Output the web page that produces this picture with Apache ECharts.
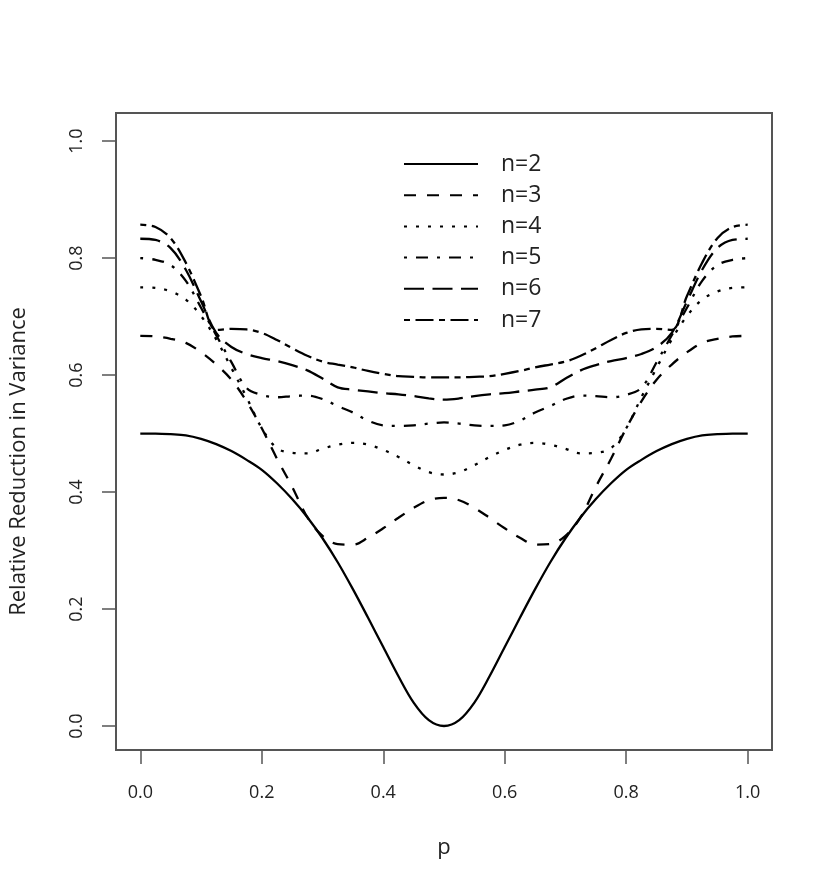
<!DOCTYPE html>
<html>
<head>
<meta charset="utf-8">
<script src="https://cdn.jsdelivr.net/npm/echarts@6/dist/echarts.min.js"></script>
<style>
html,body{margin:0;padding:0;background:#fff;}
#chart{width:830px;height:891px;}
</style>
</head>
<body>
<div id="chart"></div>
<script>
// p values (x axis), step 0.025 from 0 to 1
const pValues = [0,0.025,0.05,0.075,0.1,0.125,0.15,0.175,0.2,0.225,0.25,0.275,0.3,0.325,0.35,0.375,0.4,0.425,0.45,0.475,0.5,0.525,0.55,0.575,0.6,0.625,0.65,0.675,0.7,0.725,0.75,0.775,0.8,0.825,0.85,0.875,0.9,0.925,0.95,0.975,1];

const n2 = [0.5,0.5,0.499,0.497,0.491,0.482,0.47,0.455,0.438,0.415,0.388,0.357,0.321,0.28,0.234,0.185,0.135,0.085,0.04,0.01,0,0.01,0.04,0.085,0.135,0.185,0.234,0.28,0.321,0.357,0.388,0.415,0.438,0.455,0.47,0.482,0.491,0.497,0.499,0.5,0.5];
const n3 = [0.667,0.666,0.662,0.655,0.639,0.618,0.592,0.555,0.509,0.457,0.409,0.357,0.325,0.311,0.31,0.322,0.338,0.356,0.373,0.386,0.39,0.386,0.373,0.356,0.338,0.322,0.31,0.311,0.325,0.357,0.409,0.457,0.509,0.555,0.592,0.618,0.639,0.655,0.662,0.666,0.667];
const n4 = [0.75,0.749,0.743,0.729,0.701,0.661,0.612,0.562,0.509,0.475,0.467,0.466,0.474,0.481,0.484,0.481,0.472,0.46,0.446,0.434,0.43,0.434,0.446,0.46,0.472,0.481,0.484,0.481,0.474,0.466,0.467,0.475,0.509,0.562,0.612,0.661,0.701,0.729,0.743,0.749,0.75];
const n5 = [0.8,0.797,0.788,0.761,0.715,0.668,0.622,0.578,0.566,0.562,0.564,0.565,0.559,0.547,0.536,0.522,0.514,0.513,0.514,0.517,0.519,0.517,0.514,0.513,0.514,0.522,0.536,0.547,0.559,0.565,0.564,0.562,0.566,0.578,0.622,0.668,0.715,0.761,0.788,0.797,0.8];
const n6 = [0.833,0.831,0.817,0.78,0.726,0.672,0.648,0.636,0.629,0.624,0.617,0.608,0.594,0.579,0.575,0.572,0.569,0.567,0.564,0.56,0.558,0.56,0.564,0.567,0.569,0.572,0.575,0.579,0.594,0.608,0.617,0.624,0.629,0.636,0.648,0.672,0.726,0.78,0.817,0.831,0.833];
const n7 = [0.857,0.853,0.834,0.792,0.735,0.677,0.679,0.678,0.672,0.66,0.646,0.633,0.623,0.618,0.613,0.607,0.602,0.598,0.597,0.596,0.596,0.596,0.597,0.598,0.602,0.607,0.613,0.618,0.623,0.633,0.646,0.66,0.672,0.678,0.679,0.677,0.735,0.792,0.834,0.853,0.857];

const seriesNames = ['n=2','n=3','n=4','n=5','n=6','n=7'];
const tickValues = [0,0.2,0.4,0.6,0.8,1.0];
const xTitle = 'p';
const yTitle = 'Relative Reduction in Variance';

const allValues = [n2,n3,n4,n5,n6,n7];
const dashStyles = ['solid',[12,11],[3,9],[3,9,12,9],[20,8.5],[6,5.5,18,5.5]];

const FONT = 'Open Sans';

const series = allValues.map((vals, i) => ({
  name: seriesNames[i],
  type: 'line',
  data: pValues.map((p, j) => [p, vals[j]]),
  symbol: 'none',
  showSymbol: false,
  smooth: 0.35,
  lineStyle: { color: '#000', width: 2.3, type: dashStyles[i], cap: 'butt' },
  itemStyle: { color: '#000' },
  emphasis: { disabled: true },
  animation: false
}));

const chart = echarts.init(document.getElementById('chart'), null, { renderer: 'canvas' });
chart.setOption({
  animation: false,
  backgroundColor: '#fff',
  grid: {
    show: true,
    left: 113, top: 113, width: 659, height: 637,
    borderColor: '#555', borderWidth: 2,
    backgroundColor: 'transparent'
  },
  legend: {
    orient: 'vertical',
    left: 403, top: 152, padding: 0,
    itemWidth: 74, itemHeight: 24, itemGap: 7.2,
    itemStyle: { color: 'rgba(0,0,0,0)', borderWidth: 0, opacity: 0 },
    textStyle: { fontFamily: FONT, fontSize: 23, color: '#222', lineHeight: 24, padding: [0,0,0,18] },
    data: seriesNames,
    selectedMode: false
  },
  xAxis: {
    type: 'value', min: -0.04, max: 1.04,
    name: xTitle, nameLocation: 'middle', nameGap: 87,
    nameTextStyle: { fontFamily: FONT, fontSize: 22, color: '#222' },
    axisLine: { show: false, onZero: false },
    splitLine: { show: false },
    axisTick: { show: true, customValues: tickValues, length: 14, lineStyle: { color: '#555', width: 1.5 } },
    axisLabel: { customValues: tickValues, formatter: v => v.toFixed(1), fontFamily: FONT, fontSize: 18, color: '#222', margin: 34 }
  },
  yAxis: {
    type: 'value', min: -0.041, max: 1.048,
    name: yTitle, nameLocation: 'middle', nameGap: 86, nameRotate: 90,
    nameTextStyle: { fontFamily: FONT, fontSize: 22, color: '#222', padding: [0, 60, 0, 0] },
    axisLine: { show: false, onZero: false },
    splitLine: { show: false },
    axisTick: { show: true, customValues: tickValues, length: 14, lineStyle: { color: '#555', width: 1.5 } },
    axisLabel: { customValues: tickValues, rotate: 90, formatter: v => v.toFixed(1), fontFamily: FONT, fontSize: 18, color: '#222', margin: 30 }
  },
  series: series
});
</script>
</body>
</html>
